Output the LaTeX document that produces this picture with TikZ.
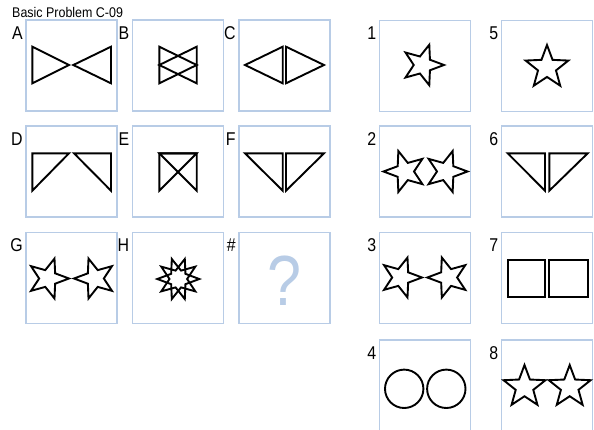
\documentclass[tikz,border=0pt]{standalone}
\usepackage{fontspec}
\setmainfont{Liberation Sans}
\usepackage{graphicx}
\definecolor{boxblue}{RGB}{184,204,230}
\newcommand\nar[1]{\scalebox{0.86}[1]{#1}}
\newcommand\drawstar[4]{\draw[shp] ({#1+#3*cos(#4)},{#2-#3*sin(#4)}) \foreach \k in {1,...,9}{ -- ({#1+#3*(0.71+0.29*cos(180*\k))*cos(#4+36*\k)},{#2-#3*(0.71+0.29*cos(180*\k))*sin(#4+36*\k)}) } -- cycle;}
\begin{document}
\begin{tikzpicture}[x=1pt,y=-1pt,
  pbox/.style={draw=boxblue, line width=1.3pt, minimum width=91pt, minimum height=91pt, inner sep=0pt},
  lbl/.style={anchor=north east, inner sep=0pt, font=\fontsize{18.5}{18.5}\selectfont},
  shp/.style={draw=black, line width=1.9pt, line join=miter}]
\fill[white] (0,0) rectangle (594,429);
\useasboundingbox (0,0) rectangle (594,429);
\node[anchor=north west, inner sep=0pt, font=\fontsize{14}{14}\selectfont] (title) at (12,7) {\scalebox{0.89}[1]{Basic Problem C-09}};
% boxes
\foreach \n/\x/\y in {A/71.5/65.5, B/178/65.5, C/284.5/65.5, D/71.5/171.5, E/178/171.5, F/284.5/171.5, G/71.5/278, H/178/278, Q/284.5/278, o1/425/66, o5/547/66, o2/425/171.5, o6/547/171.5, o3/425/278, o7/547/278, o4/425/385.5, o8/547/385.5}
  \node[pbox] (b\n) at (\x,\y) {};
% labels
\foreach \n/\t in {A/A, B/B, C/C, D/D, E/E, F/F, G/G, H/H, Q/\#, o1/1, o2/2, o3/3, o4/4, o5/5, o6/6, o7/7, o8/8}
  \node[lbl] (l\n) at ([xshift=-2.5pt,yshift=-7pt]b\n.north west) {\nar{\t}};
% question mark
\node[inner sep=0pt, text=boxblue, font=\fontsize{71}{71}\selectfont] (qm) at (284.5,281) {\nar{?}};
% A
\draw[shp] (32.3,46.7) -- (32.3,83.3) -- (69,65) -- cycle;
\draw[shp] (73.3,65) -- (111,46.7) -- (111,83.3) -- cycle;
% B
\draw[shp] (159.3,46.7) -- (159.3,83.3) -- (196.7,65) -- cycle;
\draw[shp] (196.7,46.7) -- (196.7,83.3) -- (159.3,65) -- cycle;
% C
\draw[shp] (245,65) -- (282.7,46.7) -- (282.7,83.3) -- cycle;
\draw[shp] (286,46.7) -- (286,83.3) -- (324,65) -- cycle;
% D
\draw[shp] (32.3,153.3) -- (69,153.3) -- (32.3,190.7) -- cycle;
\draw[shp] (74,153.3) -- (111,153.3) -- (111,190.7) -- cycle;
% E
\draw[shp] (159.3,153.3) -- (196.7,153.3) -- (159.3,190.7) -- cycle;
\draw[shp] (159.3,153.3) -- (196.7,153.3) -- (196.7,190.7) -- cycle;
% F
\draw[shp] (245,153.3) -- (282.7,153.3) -- (282.7,190.7) -- cycle;
\draw[shp] (286,153.3) -- (324,153.3) -- (286,190.7) -- cycle;
% G
\drawstar{48}{278.5}{21}{0}
\drawstar{95}{278.5}{21}{180}
% H
\drawstar{178.3}{279}{21}{0}
\drawstar{178.3}{279}{21}{180}
% option 1
\drawstar{422.7}{65}{21.3}{0}
% option 5
\drawstar{547}{67.5}{22.5}{90}
% option 2
\drawstar{405}{171.5}{21.5}{180}
\drawstar{446}{171.5}{21.5}{0}
% option 6
\draw[shp] (507.7,153.3) -- (545,153.3) -- (545,190.7) -- cycle;
\draw[shp] (549.3,153.3) -- (587.7,153.3) -- (549.3,190.7) -- cycle;
% option 3
\drawstar{401}{277.5}{21}{0}
\drawstar{448.3}{277.5}{21}{180}
% option 7
\draw[shp] (507.7,260) rectangle (545,297.3);
\draw[shp] (549.3,260) rectangle (587.7,297.3);
% option 4
\draw[shp] (404.2,388.8) circle[radius=19.2];
\draw[shp] (446.3,388.8) circle[radius=19.2];
% option 8
\drawstar{524.5}{387}{22}{90}
\drawstar{569.7}{387}{22}{90}
\end{tikzpicture}
\end{document}
